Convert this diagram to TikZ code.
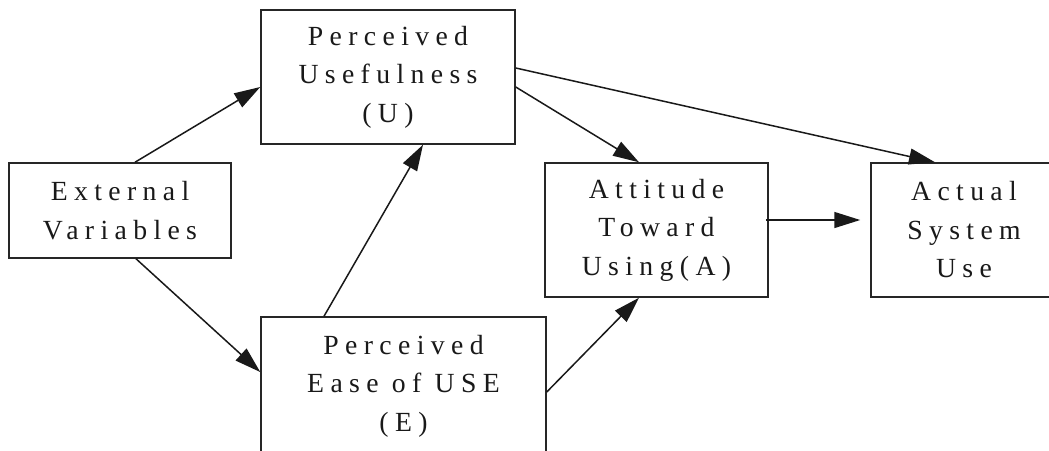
\documentclass[tikz,border=0pt]{standalone}
\usepackage{fontspec}
\newfontfamily\lblfont{Liberation Serif}[LetterSpace=23]
\usetikzlibrary{arrows.meta,calc}
\tikzset{
  box/.style={draw=black!85, line width=1.5pt, rectangle, inner sep=0pt, align=center,
    font=\lblfont\fontsize{27.7}{38.5}\selectfont, text=black!90},
  conn/.style={draw=black!90, line width=1.5pt, -{Triangle[length=26pt,width=16pt]}},
}
\begin{document}
\begin{tikzpicture}[x=1pt,y=-1pt]
\useasboundingbox[fill=white] (0,0) rectangle (1049,450);
\node[box, minimum width=222pt, minimum height=95pt] (ev) at (120,210.5) {External\\Variables};
\node[box, minimum width=254pt, minimum height=134pt] (pu) at (388,77) {Perceived\\Usefulness\\(U)};
\node[box, minimum width=285pt, minimum height=138pt] (peu) at (403.5,386) {Perceived\\Ease of USE\\(E)};
\node[box, minimum width=223pt, minimum height=134pt] (att) at (656.5,230) {Attitude\\Toward\\Using(A)};
\node[box, minimum width=186pt, minimum height=134pt] (asu) at (964,230) {Actual\\System\\Use};
\draw[conn] ($(ev.north)+(15,0)$) -- ($(pu.west)+(0,10)$);
\draw[conn] ($(ev.south)+(16,0)$) -- ($(peu.west)+(0,-14)$);
\draw[conn] ($(peu.north)+(-79.5,0)$) -- ($(pu.south)+(35,0)$);
\draw[conn] ($(pu.east)+(0,10)$) -- ($(att.north)+(-17.5,0)$);
\draw[conn] ($(pu.east)+(0,-9)$) -- ($(asu.north)+(-29,0)$);
\draw[conn] ($(peu.east)+(0,6)$) -- ($(att.south)+(-17.5,0)$);
\draw[conn] ($(att.east)+(-3,-10)$) -- ($(asu.west)+(-10,-10)$);
\end{tikzpicture}
\end{document}
